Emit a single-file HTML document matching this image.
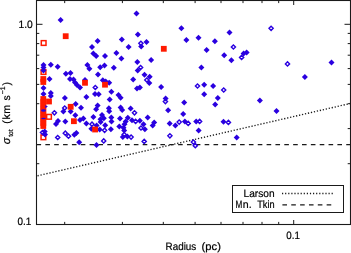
<!DOCTYPE html><html><head><meta charset="utf-8"><title>plot</title><style>html,body{margin:0;padding:0;background:#fff}svg{display:block}text{text-rendering:geometricPrecision}</style></head><body><svg width="351" height="253" viewBox="0 0 351 253">
<rect width="351" height="253" fill="#fff"/>
<line x1="37.5" y1="175.8" x2="350.5" y2="103.4" stroke="#1a1a1a" stroke-width="1.35" stroke-dasharray="1.25 1.8"/>
<line x1="36.5" y1="144.6" x2="350.5" y2="144.6" stroke="#1a1a1a" stroke-width="1.4" stroke-dasharray="4.6 4.25"/>
<rect x="41.30" y="40.65" width="4.7" height="4.7" fill="none" stroke="#ff1a00" stroke-width="1.5"/>
<rect x="41.15" y="69.65" width="4.7" height="4.7" fill="none" stroke="#ff1a00" stroke-width="1.5"/>
<rect x="46.65" y="114.45" width="4.7" height="4.7" fill="none" stroke="#ff1a00" stroke-width="1.5"/>
<rect x="41.05" y="134.95" width="4.7" height="4.7" fill="none" stroke="#ff1a00" stroke-width="1.5"/>
<path d="M140.9 41.2L143.0 43.3L140.9 45.4L138.8 43.3Z" fill="none" stroke="#2a00e0" stroke-width="1.4"/>
<path d="M233.4 44.9L235.5 47.0L233.4 49.1L231.3 47.0Z" fill="none" stroke="#2a00e0" stroke-width="1.4"/>
<path d="M271.1 26.2L273.2 28.3L271.1 30.4L269.0 28.3Z" fill="none" stroke="#2a00e0" stroke-width="1.4"/>
<path d="M54.4 110.7L56.5 112.8L54.4 114.9L52.3 112.8Z" fill="none" stroke="#2a00e0" stroke-width="1.4"/>
<path d="M64.7 105.9L66.8 108.0L64.7 110.1L62.6 108.0Z" fill="none" stroke="#2a00e0" stroke-width="1.4"/>
<path d="M42.5 130.4L44.6 132.5L42.5 134.6L40.4 132.5Z" fill="none" stroke="#2a00e0" stroke-width="1.4"/>
<path d="M57.7 135.4L59.8 137.5L57.7 139.6L55.6 137.5Z" fill="none" stroke="#2a00e0" stroke-width="1.4"/>
<path d="M65.3 131.1L67.4 133.2L65.3 135.3L63.2 133.2Z" fill="none" stroke="#2a00e0" stroke-width="1.4"/>
<path d="M68.5 134.1L70.6 136.2L68.5 138.3L66.4 136.2Z" fill="none" stroke="#2a00e0" stroke-width="1.4"/>
<path d="M95.3 85.4L97.4 87.5L95.3 89.6L93.2 87.5Z" fill="none" stroke="#2a00e0" stroke-width="1.4"/>
<path d="M140.6 65.4L142.7 67.5L140.6 69.6L138.5 67.5Z" fill="none" stroke="#2a00e0" stroke-width="1.4"/>
<path d="M92.0 122.1L94.1 124.2L92.0 126.3L89.9 124.2Z" fill="none" stroke="#2a00e0" stroke-width="1.4"/>
<path d="M104.6 128.2L106.7 130.3L104.6 132.4L102.5 130.3Z" fill="none" stroke="#2a00e0" stroke-width="1.4"/>
<path d="M103.7 138.8L105.8 140.9L103.7 143.0L101.6 140.9Z" fill="none" stroke="#2a00e0" stroke-width="1.4"/>
<path d="M134.5 110.7L136.6 112.8L134.5 114.9L132.4 112.8Z" fill="none" stroke="#2a00e0" stroke-width="1.4"/>
<path d="M135.6 119.3L137.7 121.4L135.6 123.5L133.5 121.4Z" fill="none" stroke="#2a00e0" stroke-width="1.4"/>
<path d="M141.0 125.9L143.1 128.0L141.0 130.1L138.9 128.0Z" fill="none" stroke="#2a00e0" stroke-width="1.4"/>
<path d="M124.2 132.4L126.3 134.5L124.2 136.6L122.1 134.5Z" fill="none" stroke="#2a00e0" stroke-width="1.4"/>
<path d="M131.1 135.0L133.2 137.1L131.1 139.2L129.0 137.1Z" fill="none" stroke="#2a00e0" stroke-width="1.4"/>
<path d="M144.2 139.3L146.3 141.4L144.2 143.5L142.1 141.4Z" fill="none" stroke="#2a00e0" stroke-width="1.4"/>
<path d="M146.8 77.9L148.9 80.0L146.8 82.1L144.7 80.0Z" fill="none" stroke="#2a00e0" stroke-width="1.4"/>
<path d="M165.4 99.5L167.5 101.6L165.4 103.7L163.3 101.6Z" fill="none" stroke="#2a00e0" stroke-width="1.4"/>
<path d="M179.2 120.0L181.3 122.1L179.2 124.2L177.1 122.1Z" fill="none" stroke="#2a00e0" stroke-width="1.4"/>
<path d="M188.2 121.3L190.3 123.4L188.2 125.5L186.1 123.4Z" fill="none" stroke="#2a00e0" stroke-width="1.4"/>
<path d="M199.6 119.3L201.7 121.4L199.6 123.5L197.5 121.4Z" fill="none" stroke="#2a00e0" stroke-width="1.4"/>
<path d="M169.9 133.7L172.0 135.8L169.9 137.9L167.8 135.8Z" fill="none" stroke="#2a00e0" stroke-width="1.4"/>
<path d="M193.4 140.0L195.5 142.1L193.4 144.2L191.3 142.1Z" fill="none" stroke="#2a00e0" stroke-width="1.4"/>
<path d="M195.3 143.6L197.4 145.7L195.3 147.8L193.2 145.7Z" fill="none" stroke="#2a00e0" stroke-width="1.4"/>
<path d="M197.5 83.9L199.6 86.0L197.5 88.1L195.4 86.0Z" fill="none" stroke="#2a00e0" stroke-width="1.4"/>
<path d="M223.7 87.9L225.8 90.0L223.7 92.1L221.6 90.0Z" fill="none" stroke="#2a00e0" stroke-width="1.4"/>
<path d="M228.4 120.3L230.5 122.4L228.4 124.5L226.3 122.4Z" fill="none" stroke="#2a00e0" stroke-width="1.4"/>
<path d="M241.6 55.3L243.7 57.4L241.6 59.5L239.5 57.4Z" fill="none" stroke="#2a00e0" stroke-width="1.4"/>
<path d="M287.5 61.8L289.6 63.9L287.5 66.0L285.4 63.9Z" fill="none" stroke="#2a00e0" stroke-width="1.4"/>
<path d="M60.6 17.0L63.6 20.0L60.6 23.0L57.6 20.0Z" fill="#2a00e0"/>
<path d="M97.6 37.9L100.6 40.9L97.6 43.9L94.6 40.9Z" fill="#2a00e0"/>
<path d="M92.0 43.9L95.0 46.9L92.0 49.9L89.0 46.9Z" fill="#2a00e0"/>
<path d="M136.5 10.6L139.5 13.6L136.5 16.6L133.5 13.6Z" fill="#2a00e0"/>
<path d="M137.9 31.5L140.9 34.5L137.9 37.5L134.9 34.5Z" fill="#2a00e0"/>
<path d="M121.8 36.5L124.8 39.5L121.8 42.5L118.8 39.5Z" fill="#2a00e0"/>
<path d="M146.5 39.1L149.5 42.1L146.5 45.1L143.5 42.1Z" fill="#2a00e0"/>
<path d="M128.6 44.1L131.6 47.1L128.6 50.1L125.6 47.1Z" fill="#2a00e0"/>
<path d="M141.2 43.5L144.2 46.5L141.2 49.5L138.2 46.5Z" fill="#2a00e0"/>
<path d="M181.4 25.3L184.4 28.3L181.4 31.3L178.4 28.3Z" fill="#2a00e0"/>
<path d="M186.4 36.9L189.4 39.9L186.4 42.9L183.4 39.9Z" fill="#2a00e0"/>
<path d="M198.5 34.7L201.5 37.7L198.5 40.7L195.5 37.7Z" fill="#2a00e0"/>
<path d="M214.9 38.3L217.9 41.3L214.9 44.3L211.9 41.3Z" fill="#2a00e0"/>
<path d="M229.5 29.5L232.5 32.5L229.5 35.5L226.5 32.5Z" fill="#2a00e0"/>
<path d="M206.6 46.9L209.6 49.9L206.6 52.9L203.6 49.9Z" fill="#2a00e0"/>
<path d="M43.5 62.0L46.5 65.0L43.5 68.0L40.5 65.0Z" fill="#2a00e0"/>
<path d="M43.5 64.5L46.5 67.5L43.5 70.5L40.5 67.5Z" fill="#2a00e0"/>
<path d="M43.5 67.5L46.5 70.5L43.5 73.5L40.5 70.5Z" fill="#2a00e0"/>
<path d="M50.8 61.7L53.8 64.7L50.8 67.7L47.8 64.7Z" fill="#2a00e0"/>
<path d="M57.7 63.7L60.7 66.7L57.7 69.7L54.7 66.7Z" fill="#2a00e0"/>
<path d="M65.9 70.8L68.9 73.8L65.9 76.8L62.9 73.8Z" fill="#2a00e0"/>
<path d="M70.5 70.0L73.5 73.0L70.5 76.0L67.5 73.0Z" fill="#2a00e0"/>
<path d="M49.5 76.0L52.5 79.0L49.5 82.0L46.5 79.0Z" fill="#2a00e0"/>
<path d="M43.5 85.1L46.5 88.1L43.5 91.1L40.5 88.1Z" fill="#2a00e0"/>
<path d="M43.5 91.0L46.5 94.0L43.5 97.0L40.5 94.0Z" fill="#2a00e0"/>
<path d="M50.8 90.0L53.8 93.0L50.8 96.0L47.8 93.0Z" fill="#2a00e0"/>
<path d="M50.8 93.0L53.8 96.0L50.8 99.0L47.8 96.0Z" fill="#2a00e0"/>
<path d="M64.9 95.0L67.9 98.0L64.9 101.0L61.9 98.0Z" fill="#2a00e0"/>
<path d="M63.4 108.4L66.4 111.4L63.4 114.4L60.4 111.4Z" fill="#2a00e0"/>
<path d="M58.0 118.0L61.0 121.0L58.0 124.0L55.0 121.0Z" fill="#2a00e0"/>
<path d="M56.0 121.0L59.0 124.0L56.0 127.0L53.0 124.0Z" fill="#2a00e0"/>
<path d="M65.3 118.5L68.3 121.5L65.3 124.5L62.3 121.5Z" fill="#2a00e0"/>
<path d="M44.7 128.5L47.7 131.5L44.7 134.5L41.7 131.5Z" fill="#2a00e0"/>
<path d="M45.0 131.5L48.0 134.5L45.0 137.5L42.0 134.5Z" fill="#2a00e0"/>
<path d="M93.4 50.5L96.4 53.5L93.4 56.5L90.4 53.5Z" fill="#2a00e0"/>
<path d="M96.2 52.9L99.2 55.9L96.2 58.9L93.2 55.9Z" fill="#2a00e0"/>
<path d="M87.4 62.0L90.4 65.0L87.4 68.0L84.4 65.0Z" fill="#2a00e0"/>
<path d="M89.4 65.7L92.4 68.7L89.4 71.7L86.4 68.7Z" fill="#2a00e0"/>
<path d="M98.0 71.6L101.0 74.6L98.0 77.6L95.0 74.6Z" fill="#2a00e0"/>
<path d="M70.0 76.0L73.0 79.0L70.0 82.0L67.0 79.0Z" fill="#2a00e0"/>
<path d="M73.5 76.5L76.5 79.5L73.5 82.5L70.5 79.5Z" fill="#2a00e0"/>
<path d="M75.0 79.5L78.0 82.5L75.0 85.5L72.0 82.5Z" fill="#2a00e0"/>
<path d="M77.0 82.0L80.0 85.0L77.0 88.0L74.0 85.0Z" fill="#2a00e0"/>
<path d="M80.0 84.5L83.0 87.5L80.0 90.5L77.0 87.5Z" fill="#2a00e0"/>
<path d="M85.0 77.0L88.0 80.0L85.0 83.0L82.0 80.0Z" fill="#2a00e0"/>
<path d="M95.0 91.0L98.0 94.0L95.0 97.0L92.0 94.0Z" fill="#2a00e0"/>
<path d="M98.7 91.2L101.7 94.2L98.7 97.2L95.7 94.2Z" fill="#2a00e0"/>
<path d="M116.4 50.1L119.4 53.1L116.4 56.1L113.4 53.1Z" fill="#2a00e0"/>
<path d="M121.4 55.5L124.4 58.5L121.4 61.5L118.4 58.5Z" fill="#2a00e0"/>
<path d="M105.0 53.1L108.0 56.1L105.0 59.1L102.0 56.1Z" fill="#2a00e0"/>
<path d="M100.2 64.2L103.2 67.2L100.2 70.2L97.2 67.2Z" fill="#2a00e0"/>
<path d="M104.5 62.4L107.5 65.4L104.5 68.4L101.5 65.4Z" fill="#2a00e0"/>
<path d="M113.8 64.8L116.8 67.8L113.8 70.8L110.8 67.8Z" fill="#2a00e0"/>
<path d="M137.3 59.1L140.3 62.1L137.3 65.1L134.3 62.1Z" fill="#2a00e0"/>
<path d="M137.7 67.4L140.7 70.4L137.7 73.4L134.7 70.4Z" fill="#2a00e0"/>
<path d="M102.8 77.2L105.8 80.2L102.8 83.2L99.8 80.2Z" fill="#2a00e0"/>
<path d="M133.2 76.4L136.2 79.4L133.2 82.4L130.2 79.4Z" fill="#2a00e0"/>
<path d="M144.5 71.8L147.5 74.8L144.5 77.8L141.5 74.8Z" fill="#2a00e0"/>
<path d="M109.2 79.8L112.2 82.8L109.2 85.8L106.2 82.8Z" fill="#2a00e0"/>
<path d="M105.7 78.4L108.7 81.4L105.7 84.4L102.7 81.4Z" fill="#2a00e0"/>
<path d="M137.0 85.5L140.0 88.5L137.0 91.5L134.0 88.5Z" fill="#2a00e0"/>
<path d="M139.9 84.5L142.9 87.5L139.9 90.5L136.9 87.5Z" fill="#2a00e0"/>
<path d="M111.4 88.8L114.4 91.8L111.4 94.8L108.4 91.8Z" fill="#2a00e0"/>
<path d="M118.5 91.9L121.5 94.9L118.5 97.9L115.5 94.9Z" fill="#2a00e0"/>
<path d="M120.6 94.8L123.6 97.8L120.6 100.8L117.6 97.8Z" fill="#2a00e0"/>
<path d="M109.7 96.5L112.7 99.5L109.7 102.5L106.7 99.5Z" fill="#2a00e0"/>
<path d="M97.6 102.5L100.6 105.5L97.6 108.5L94.6 105.5Z" fill="#2a00e0"/>
<path d="M108.9 105.2L111.9 108.2L108.9 111.2L105.9 108.2Z" fill="#2a00e0"/>
<path d="M120.6 104.6L123.6 107.6L120.6 110.6L117.6 107.6Z" fill="#2a00e0"/>
<path d="M130.6 105.6L133.6 108.6L130.6 111.6L127.6 108.6Z" fill="#2a00e0"/>
<path d="M86.4 94.1L89.4 97.1L86.4 100.1L83.4 97.1Z" fill="#2a00e0"/>
<path d="M75.7 101.0L78.7 104.0L75.7 107.0L72.7 104.0Z" fill="#2a00e0"/>
<path d="M70.6 108.4L73.6 111.4L70.6 114.4L67.6 111.4Z" fill="#2a00e0"/>
<path d="M75.3 112.3L78.3 115.3L75.3 118.3L72.3 115.3Z" fill="#2a00e0"/>
<path d="M81.0 104.8L84.0 107.8L81.0 110.8L78.0 107.8Z" fill="#2a00e0"/>
<path d="M96.1 106.2L99.1 109.2L96.1 112.2L93.1 109.2Z" fill="#2a00e0"/>
<path d="M109.2 108.3L112.2 111.3L109.2 114.3L106.2 111.3Z" fill="#2a00e0"/>
<path d="M80.0 117.0L83.0 120.0L80.0 123.0L77.0 120.0Z" fill="#2a00e0"/>
<path d="M83.4 115.5L86.4 118.5L83.4 121.5L80.4 118.5Z" fill="#2a00e0"/>
<path d="M93.4 114.0L96.4 117.0L93.4 120.0L90.4 117.0Z" fill="#2a00e0"/>
<path d="M102.0 112.0L105.0 115.0L102.0 118.0L99.0 115.0Z" fill="#2a00e0"/>
<path d="M103.8 115.3L106.8 118.3L103.8 121.3L100.8 118.3Z" fill="#2a00e0"/>
<path d="M100.5 116.2L103.5 119.2L100.5 122.2L97.5 119.2Z" fill="#2a00e0"/>
<path d="M111.3 114.5L114.3 117.5L111.3 120.5L108.3 117.5Z" fill="#2a00e0"/>
<path d="M111.5 118.5L114.5 121.5L111.5 124.5L108.5 121.5Z" fill="#2a00e0"/>
<path d="M86.4 120.5L89.4 123.5L86.4 126.5L83.4 123.5Z" fill="#2a00e0"/>
<path d="M96.6 122.6L99.6 125.6L96.6 128.6L93.6 125.6Z" fill="#2a00e0"/>
<path d="M91.4 125.8L94.4 128.8L91.4 131.8L88.4 128.8Z" fill="#2a00e0"/>
<path d="M99.7 126.4L102.7 129.4L99.7 132.4L96.7 129.4Z" fill="#2a00e0"/>
<path d="M100.6 119.0L103.6 122.0L100.6 125.0L97.6 122.0Z" fill="#2a00e0"/>
<path d="M105.2 122.3L108.2 125.3L105.2 128.3L102.2 125.3Z" fill="#2a00e0"/>
<path d="M110.9 126.3L113.9 129.3L110.9 132.3L107.9 129.3Z" fill="#2a00e0"/>
<path d="M74.3 131.7L77.3 134.7L74.3 137.7L71.3 134.7Z" fill="#2a00e0"/>
<path d="M76.4 130.1L79.4 133.1L76.4 136.1L73.4 133.1Z" fill="#2a00e0"/>
<path d="M79.2 139.3L82.2 142.3L79.2 145.3L76.2 142.3Z" fill="#2a00e0"/>
<path d="M96.5 142.0L99.5 145.0L96.5 148.0L93.5 145.0Z" fill="#2a00e0"/>
<path d="M122.2 107.0L125.2 110.0L122.2 113.0L119.2 110.0Z" fill="#2a00e0"/>
<path d="M124.5 121.2L127.5 124.2L124.5 127.2L121.5 124.2Z" fill="#2a00e0"/>
<path d="M120.0 115.5L123.0 118.5L120.0 121.5L117.0 118.5Z" fill="#2a00e0"/>
<path d="M127.8 114.8L130.8 117.8L127.8 120.8L124.8 117.8Z" fill="#2a00e0"/>
<path d="M125.7 118.4L128.7 121.4L125.7 124.4L122.7 121.4Z" fill="#2a00e0"/>
<path d="M132.0 117.2L135.0 120.2L132.0 123.2L129.0 120.2Z" fill="#2a00e0"/>
<path d="M139.9 117.7L142.9 120.7L139.9 123.7L136.9 120.7Z" fill="#2a00e0"/>
<path d="M147.7 114.4L150.7 117.4L147.7 120.4L144.7 117.4Z" fill="#2a00e0"/>
<path d="M143.5 121.2L146.5 124.2L143.5 127.2L140.5 124.2Z" fill="#2a00e0"/>
<path d="M154.2 119.5L157.2 122.5L154.2 125.5L151.2 122.5Z" fill="#2a00e0"/>
<path d="M152.7 122.6L155.7 125.6L152.7 128.6L149.7 125.6Z" fill="#2a00e0"/>
<path d="M144.9 126.3L147.9 129.3L144.9 132.3L141.9 129.3Z" fill="#2a00e0"/>
<path d="M119.3 123.4L122.3 126.4L119.3 129.4L116.3 126.4Z" fill="#2a00e0"/>
<path d="M123.5 124.8L126.5 127.8L123.5 130.8L120.5 127.8Z" fill="#2a00e0"/>
<path d="M124.2 127.6L127.2 130.6L124.2 133.6L121.2 130.6Z" fill="#2a00e0"/>
<path d="M122.8 134.1L125.8 137.1L122.8 140.1L119.8 137.1Z" fill="#2a00e0"/>
<path d="M127.4 133.4L130.4 136.4L127.4 139.4L124.4 136.4Z" fill="#2a00e0"/>
<path d="M151.1 57.0L154.1 60.0L151.1 63.0L148.1 60.0Z" fill="#2a00e0"/>
<path d="M149.7 73.8L152.7 76.8L149.7 79.8L146.7 76.8Z" fill="#2a00e0"/>
<path d="M149.3 80.1L152.3 83.1L149.3 86.1L146.3 83.1Z" fill="#2a00e0"/>
<path d="M161.1 84.1L164.1 87.1L161.1 90.1L158.1 87.1Z" fill="#2a00e0"/>
<path d="M165.6 95.5L168.6 98.5L165.6 101.5L162.6 98.5Z" fill="#2a00e0"/>
<path d="M184.2 99.5L187.2 102.5L184.2 105.5L181.2 102.5Z" fill="#2a00e0"/>
<path d="M168.1 107.3L171.1 110.3L168.1 113.3L165.1 110.3Z" fill="#2a00e0"/>
<path d="M183.2 111.0L186.2 114.0L183.2 117.0L180.2 114.0Z" fill="#2a00e0"/>
<path d="M169.7 120.5L172.7 123.5L169.7 126.5L166.7 123.5Z" fill="#2a00e0"/>
<path d="M175.4 122.4L178.4 125.4L175.4 128.4L172.4 125.4Z" fill="#2a00e0"/>
<path d="M184.9 118.4L187.9 121.4L184.9 124.4L181.9 121.4Z" fill="#2a00e0"/>
<path d="M196.2 118.4L199.2 121.4L196.2 124.4L193.2 121.4Z" fill="#2a00e0"/>
<path d="M198.6 127.6L201.6 130.6L198.6 133.6L195.6 130.6Z" fill="#2a00e0"/>
<path d="M224.2 52.3L227.2 55.3L224.2 58.3L221.2 55.3Z" fill="#2a00e0"/>
<path d="M231.4 57.3L234.4 60.3L231.4 63.3L228.4 60.3Z" fill="#2a00e0"/>
<path d="M201.4 64.4L204.4 67.4L201.4 70.4L198.4 67.4Z" fill="#2a00e0"/>
<path d="M204.2 81.8L207.2 84.8L204.2 87.8L201.2 84.8Z" fill="#2a00e0"/>
<path d="M213.1 83.0L216.1 86.0L213.1 89.0L210.1 86.0Z" fill="#2a00e0"/>
<path d="M204.2 91.2L207.2 94.2L204.2 97.2L201.2 94.2Z" fill="#2a00e0"/>
<path d="M217.8 95.1L220.8 98.1L217.8 101.1L214.8 98.1Z" fill="#2a00e0"/>
<path d="M215.2 101.6L218.2 104.6L215.2 107.6L212.2 104.6Z" fill="#2a00e0"/>
<path d="M223.5 118.7L226.5 121.7L223.5 124.7L220.5 121.7Z" fill="#2a00e0"/>
<path d="M236.7 134.4L239.7 137.4L236.7 140.4L233.7 137.4Z" fill="#2a00e0"/>
<path d="M243.6 50.6L246.6 53.6L243.6 56.6L240.6 53.6Z" fill="#2a00e0"/>
<path d="M246.6 49.4L249.6 52.4L246.6 55.4L243.6 52.4Z" fill="#2a00e0"/>
<path d="M304.9 73.9L307.9 76.9L304.9 79.9L301.9 76.9Z" fill="#2a00e0"/>
<path d="M331.5 59.5L334.5 62.5L331.5 65.5L328.5 62.5Z" fill="#2a00e0"/>
<path d="M259.9 97.4L262.9 100.4L259.9 103.4L256.9 100.4Z" fill="#2a00e0"/>
<path d="M276.5 107.9L279.5 110.9L276.5 113.9L273.5 110.9Z" fill="#2a00e0"/>
<rect x="62.8" y="33.3" width="5.8" height="5.8" fill="#ff1a00"/>
<rect x="160.9" y="45.9" width="5.8" height="5.8" fill="#ff1a00"/>
<rect x="82.1" y="79.9" width="5.8" height="5.8" fill="#ff1a00"/>
<rect x="102.1" y="81.8" width="5.8" height="5.8" fill="#ff1a00"/>
<rect x="67.8" y="103.9" width="5.8" height="5.8" fill="#ff1a00"/>
<rect x="71.0" y="118.3" width="5.8" height="5.8" fill="#ff1a00"/>
<rect x="92.2" y="126.6" width="5.8" height="5.8" fill="#ff1a00"/>
<rect x="46.1" y="98.6" width="5.8" height="5.8" fill="#ff1a00"/>
<rect x="40.4" y="76.1" width="5.8" height="5.8" fill="#ff1a00"/>
<rect x="40.4" y="79.1" width="5.8" height="5.8" fill="#ff1a00"/>
<rect x="40.4" y="96.1" width="5.8" height="5.8" fill="#ff1a00"/>
<rect x="40.4" y="99.1" width="5.8" height="5.8" fill="#ff1a00"/>
<rect x="40.4" y="102.1" width="5.8" height="5.8" fill="#ff1a00"/>
<rect x="40.4" y="105.1" width="5.8" height="5.8" fill="#ff1a00"/>
<rect x="40.4" y="108.1" width="5.8" height="5.8" fill="#ff1a00"/>
<rect x="40.4" y="111.1" width="5.8" height="5.8" fill="#ff1a00"/>
<rect x="40.4" y="114.1" width="5.8" height="5.8" fill="#ff1a00"/>
<rect x="40.4" y="117.1" width="5.8" height="5.8" fill="#ff1a00"/>
<rect x="40.4" y="120.1" width="5.8" height="5.8" fill="#ff1a00"/>
<rect x="40.4" y="123.1" width="5.8" height="5.8" fill="#ff1a00"/>
<ellipse cx="43.5" cy="110.5" rx="2.4" ry="1.2" fill="#2a00e0"/><ellipse cx="43.5" cy="118.5" rx="2.3" ry="0.8" fill="#2a00e0"/><path d="M45.3 104.9L47.9 106.6L45.3 108.3Z" fill="#2a00e0"/>
<rect x="36.5" y="0.5" width="314.0" height="224.0" fill="none" stroke="#1a1a1a" stroke-width="1.1"/>
<path d="M64.7 0.5v2.6M64.7 224.5v-2.6M122.4 0.5v2.6M122.4 224.5v-2.6M163.3 0.5v2.6M163.3 224.5v-2.6M195.1 0.5v2.6M195.1 224.5v-2.6M221.0 0.5v2.6M221.0 224.5v-2.6M243.0 0.5v2.6M243.0 224.5v-2.6M262.0 0.5v2.6M262.0 224.5v-2.6M278.7 0.5v2.6M278.7 224.5v-2.6M293.7 0.5v4.5M293.7 224.5v-4.5M36.5 24.3h6M350.5 24.3h-6M36.5 33.4h2.8M350.5 33.4h-2.8M36.5 43.6h2.8M350.5 43.6h-2.8M36.5 55.2h2.8M350.5 55.2h-2.8M36.5 68.6h2.8M350.5 68.6h-2.8M36.5 84.4h2.8M350.5 84.4h-2.8M36.5 103.7h2.8M350.5 103.7h-2.8M36.5 128.6h2.8M350.5 128.6h-2.8M36.5 163.7h2.8M350.5 163.7h-2.8" stroke="#1a1a1a" stroke-width="1" fill="none"/>
<rect x="232.5" y="185.5" width="111" height="27" fill="#fff" stroke="#1a1a1a" stroke-width="1"/>
<line x1="282" y1="193.5" x2="333.4" y2="193.5" stroke="#1a1a1a" stroke-width="1.3" stroke-dasharray="1.2 1.9"/>
<line x1="282.4" y1="204.9" x2="331.3" y2="204.9" stroke="#1a1a1a" stroke-width="1.4" stroke-dasharray="4.6 4.25"/>
<text x="243.6" y="196.8" font-size="10.6" textLength="31" lengthAdjust="spacingAndGlyphs" font-family="Liberation Sans, sans-serif" fill="#000" stroke="#000" stroke-width="0.2">Larson</text>
<text y="207.7" font-size="10.6" font-family="Liberation Sans, sans-serif" fill="#000" stroke="#000" stroke-width="0.2"><tspan x="235.6" textLength="6.8" lengthAdjust="spacingAndGlyphs">M</tspan><tspan x="242.8">n.</tspan> <tspan x="257.2" textLength="17.4" lengthAdjust="spacingAndGlyphs">Tkin</tspan></text>
<text x="18.5" y="28.2" font-size="10.6" textLength="14.3" lengthAdjust="spacingAndGlyphs" font-family="Liberation Sans, sans-serif" fill="#000" stroke="#000" stroke-width="0.2">1.0</text>
<text x="17.6" y="224.6" font-size="10.6" textLength="13.8" lengthAdjust="spacingAndGlyphs" font-family="Liberation Sans, sans-serif" fill="#000" stroke="#000" stroke-width="0.2">0.1</text>
<text x="286.3" y="238.6" font-size="10.6" textLength="13.6" lengthAdjust="spacingAndGlyphs" font-family="Liberation Sans, sans-serif" fill="#000" stroke="#000" stroke-width="0.2">0.1</text>
<text y="250.2" font-size="10.6" font-family="Liberation Sans, sans-serif" fill="#000" stroke="#000" stroke-width="0.2"><tspan x="165.6" textLength="30.7" lengthAdjust="spacingAndGlyphs">Radius</tspan> <tspan x="201.6" textLength="19.3" lengthAdjust="spacingAndGlyphs">(pc)</tspan></text>
<g transform="translate(9.8,143.8) rotate(-90)"><text font-family="Liberation Sans, sans-serif" fill="#000" stroke="#000" stroke-width="0.2"><tspan x="-0.5" y="0" font-size="11" font-style="italic">σ</tspan><tspan x="7.0" y="3.0" font-size="6.8"  textLength="7.4" lengthAdjust="spacing">tot</tspan> <tspan x="20.1" y="0" font-size="10.5"  textLength="18.7" lengthAdjust="spacing">(km</tspan> <tspan x="43.2" y="0" font-size="10.5" >s</tspan><tspan x="49.6" y="-5.2" font-size="6.8" >−1</tspan><tspan x="58.3" y="0" font-size="10.5" >)</tspan></text></g>
</svg></body></html>
